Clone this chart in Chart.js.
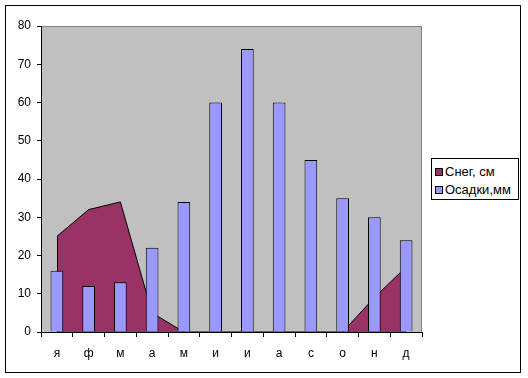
<!DOCTYPE html>
<html>
<head>
<meta charset="utf-8">
<script src="https://cdn.jsdelivr.net/npm/chart.js@4/dist/chart.umd.min.js"></script>
<style>
  body { margin: 0; background: #fff; }
  #wrap { position: relative; width: 528px; height: 378px; }
  #legend {
    position: absolute; left: 431px; top: 158px; width: 88px; height: 42px;
    border: 1px solid #000; background: #fff; box-sizing: border-box;
    font-family: "Liberation Sans", Arial, sans-serif; font-size: 13px; color: #000;
    padding: 5px 0 0 3px;
  }
  .item { display: flex; align-items: center; height: 15px; margin-bottom: 3px; white-space: nowrap; }
  .box { width: 6px; height: 6px; border: 1px solid #000; margin-right: 2px; }
</style>
</head>
<body>
<div id="wrap">
  <canvas id="chart" width="528" height="378"></canvas>
  <div id="legend"></div>
</div>
<script>
// данные
const months = ['я', 'ф', 'м', 'а', 'м', 'и', 'и', 'а', 'с', 'о', 'н', 'д'];
const snow = [25, 32, 34, 5, 0, 0, 0, 0, 0, 0, 9, 17];
const precip = [16, 12, 13, 22, 34, 60, 74, 60, 45, 35, 30, 24];
const seriesNames = ['Снег, см', 'Осадки,мм'];
const seriesColors = ['#993366', '#9999FF'];

// легенда
const legend = document.getElementById('legend');
seriesNames.forEach((name, i) => {
  const item = document.createElement('div');
  item.className = 'item';
  const box = document.createElement('span');
  box.className = 'box';
  box.style.backgroundColor = seriesColors[i];
  const txt = document.createElement('span');
  txt.textContent = name;
  item.appendChild(box);
  item.appendChild(txt);
  legend.appendChild(item);
});

// серый фон области построения и рамка
const frame = {
  id: 'frame',
  beforeDraw(chart) {
    const { ctx, chartArea: a } = chart;
    ctx.save();
    ctx.fillStyle = '#C0C0C0';
    ctx.fillRect(a.left, a.top, a.right - a.left, a.bottom - a.top);
    ctx.strokeStyle = '#808080';
    ctx.lineWidth = 1;
    ctx.beginPath();
    ctx.moveTo(a.left, a.top + 0.5);
    ctx.lineTo(a.right - 0.5, a.top + 0.5);
    ctx.lineTo(a.right - 0.5, a.bottom);
    ctx.stroke();
    ctx.strokeStyle = '#000';
    ctx.strokeRect(5.5, 5.5, 515, 367);
    ctx.restore();
  },
  // левая грань области снега (первая точка)
  afterDatasetDraw(chart, args) {
    if (args.index !== 0) return;
    const { ctx } = chart;
    const x = Math.round(chart.scales.x.getPixelForValue(0)) + 0.5;
    ctx.save();
    ctx.strokeStyle = '#000';
    ctx.lineWidth = 1;
    ctx.beginPath();
    ctx.moveTo(x, chart.scales.y.getPixelForValue(0));
    ctx.lineTo(x, chart.scales.y.getPixelForValue(snow[0]));
    ctx.stroke();
    ctx.restore();
  },
};

const font = { family: '"Liberation Sans", Arial, sans-serif', size: 12 };

new Chart(document.getElementById('chart'), {
  type: 'bar',
  data: {
    labels: months,
    datasets: [
      {
        type: 'line',
        label: seriesNames[0],
        data: snow,
        fill: 'origin',
        backgroundColor: seriesColors[0],
        borderColor: '#000',
        borderWidth: 1,
        pointRadius: 0,
        tension: 0,
        order: 2,
      },
      {
        label: seriesNames[1],
        data: precip,
        backgroundColor: seriesColors[1],
        borderColor: '#000',
        borderWidth: 1,
        barPercentage: 0.4,
        categoryPercentage: 1,
        order: 1,
      },
    ],
  },
  options: {
    responsive: false,
    animation: false,
    layout: { padding: { left: 0, top: 26, right: 106, bottom: 0 } },
    plugins: {
      legend: { display: false },
      tooltip: { enabled: false },
    },
    scales: {
      x: {
        grid: { drawOnChartArea: false, drawTicks: true, tickLength: 5, color: '#000', offset: true },
        border: { color: '#000' },
        ticks: { color: '#000', font: font, padding: 9 },
        afterFit(scale) { scale.height = 46; },
      },
      y: {
        min: 0,
        max: 80,
        ticks: { stepSize: 10, color: '#000', font: font, padding: 6 },
        grid: { drawOnChartArea: false, drawTicks: true, tickLength: 4, color: '#000' },
        border: { color: '#000' },
        afterFit(scale) { scale.width = 41; },
      },
    },
  },
  plugins: [frame],
});
</script>
</body>
</html>
